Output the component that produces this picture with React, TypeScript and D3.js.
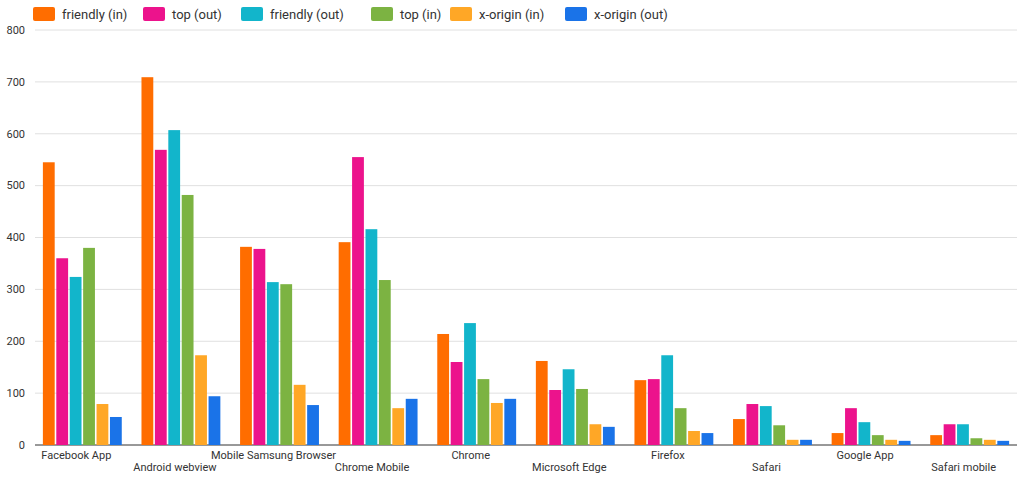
import React, { useRef, useEffect } from 'react'
import * as d3 from 'd3'

const categories = ['Facebook App', 'Android webview', 'Mobile Samsung Browser', 'Chrome Mobile', 'Chrome', 'Microsoft Edge', 'Firefox', 'Safari', 'Google App', 'Safari mobile']
const seriesNames = ['friendly (in)', 'top (out)', 'friendly (out)', 'top (in)', 'x-origin (in)', 'x-origin (out)']
const colors = ['#ff6d00', '#ec138c', '#12b5cb', '#7cb342', '#ffa726', '#1a73e8']
const friendlyIn = [545, 709, 382, 391, 214, 162, 125, 50, 23, 19]
const topOut = [360, 569, 378, 555, 160, 106, 127, 79, 71, 40]
const friendlyOut = [324, 607, 314, 416, 235, 146, 173, 75, 44, 40]
const topIn = [380, 482, 310, 318, 127, 108, 71, 38, 19, 13]
const xOriginIn = [79, 173, 116, 71, 81, 40, 27, 10, 10, 10]
const xOriginOut = [54, 94, 77, 89, 89, 35, 23, 10, 8, 8]
const series = [friendlyIn, topOut, friendlyOut, topIn, xOriginIn, xOriginOut]
const yTicks = [0, 100, 200, 300, 400, 500, 600, 700, 800]
const legendX = [33, 143, 241, 371, 450, 565]

const W = 1024
const H = 477

export default function App() {
  const ref = useRef<SVGSVGElement>(null)

  useEffect(() => {
    const svg = d3.select(ref.current!)
    svg.selectAll('*').remove()
    const font = 'Roboto, sans-serif'

    const x = d3.scaleBand<string>().domain(categories).range([35, 1017]).paddingInner(0.2).paddingOuter(0.08)
    const sub = d3.scaleBand<number>().domain(d3.range(6)).range([0, x.bandwidth()]).paddingInner(0.12)
    const y = d3.scaleLinear().domain([0, 800]).range([445, 30])

    // grid
    svg.append('g').selectAll('line').data(yTicks).join('line')
      .attr('x1', 35).attr('x2', 1017)
      .attr('y1', d => y(d)).attr('y2', d => y(d))
      .attr('stroke', d => (d === 0 ? '#333' : '#e0e0e0'))
    svg.append('g').selectAll('text').data(yTicks).join('text')
      .attr('x', 25).attr('y', d => y(d)).attr('dy', '0.35em')
      .attr('text-anchor', 'end').style('font', `11px ${font}`).attr('fill', '#333')
      .text(d => d)

    // bars
    series.forEach((vals, si) => {
      svg.append('g').selectAll('rect').data(vals).join('rect')
        .attr('x', (_, i) => x(categories[i])! + sub(si)!)
        .attr('width', sub.bandwidth())
        .attr('y', d => y(d))
        .attr('height', d => y(0) - y(d))
        .attr('fill', colors[si])
    })

    // category labels
    svg.append('g').selectAll('text').data(categories).join('text')
      .attr('x', d => x(d)! + x.bandwidth() / 2 - 6)
      .attr('y', (_, i) => (i % 2 === 0 ? 459 : 471))
      .attr('text-anchor', 'middle').style('font', `11px ${font}`).attr('fill', '#333')
      .text(d => d)

    // legend
    const lg = svg.append('g')
    seriesNames.forEach((n, i) => {
      lg.append('rect').attr('x', legendX[i]).attr('y', 7).attr('width', 22).attr('height', 14).attr('rx', 2).attr('fill', colors[i])
      lg.append('text').attr('x', legendX[i] + 29).attr('y', 19).style('font', `13px ${font}`).attr('fill', '#333').text(n)
    })
  }, [])

  return <svg ref={ref} width={W} height={H} style={{ position: 'absolute', left: 0, top: 0, background: '#fff' }} />
}
